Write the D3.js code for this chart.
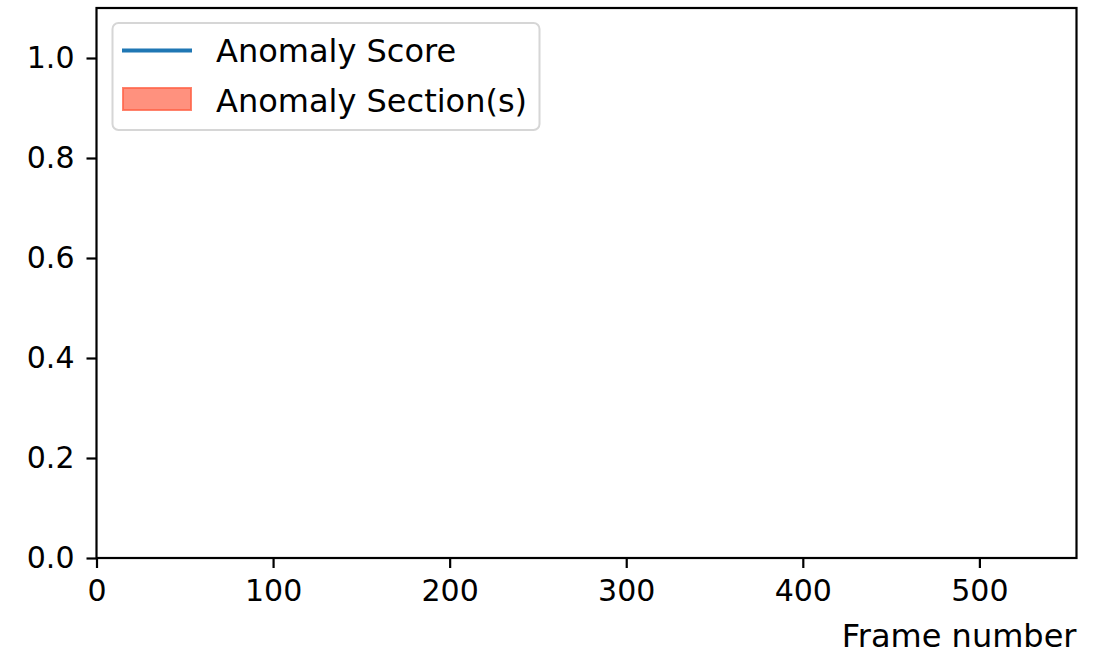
<!DOCTYPE html>
<html>
    <head>
        <meta charset="utf8">
        <title>Anomaly Score</title>
        <style>
            body { margin: 0; background: #fff; }
            svg text { font-family: "DejaVu Sans", sans-serif; fill: #000; }
            .tick line { stroke: #000; stroke-width: 2.2px; }
            .domain { display: none; }
        </style>
    </head>
    <body>
        <svg width="1101" height="654"></svg>

        <script src="https://d3js.org/d3.v7.min.js"></script>
        <script>
            // data (the reference shows an empty plot: no score values, no sections)
            var frames = [];
            var scores = [];
            var anomalySections = [];   // [start, end] pairs

            var xDomain = [0, 555];
            var yDomain = [0, 1.1];
            var xTicks = [0, 100, 200, 300, 400, 500];
            var yTicks = [0.0, 0.2, 0.4, 0.6, 0.8, 1.0];
            var legendLabels = ["Anomaly Score", "Anomaly Section(s)"];
            var xLabel = "Frame number";

            var svg = d3.select("svg");
            var plotLeft = 96.5, plotRight = 1076.5, plotTop = 8, plotBottom = 558;

            var x = d3.scaleLinear().domain(xDomain).range([plotLeft, plotRight]);
            var y = d3.scaleLinear().domain(yDomain).range([plotBottom, plotTop]);

            // anomaly sections
            svg.append("g")
                .selectAll("rect")
                .data(anomalySections)
                .enter().append("rect")
                .attr("x", d => x(d[0]))
                .attr("width", d => x(d[1]) - x(d[0]))
                .attr("y", plotTop)
                .attr("height", plotBottom - plotTop)
                .attr("fill", "tomato")
                .attr("fill-opacity", 0.7);

            // score line
            var line = d3.line()
                .x((d, i) => x(frames[i]))
                .y(d => y(d));
            svg.append("path")
                .datum(scores)
                .attr("fill", "none")
                .attr("stroke", "#1f77b4")
                .attr("stroke-width", 4)
                .attr("d", line);

            // axes
            var xAxis = svg.append("g")
                .attr("transform", "translate(0," + plotBottom + ")")
                .call(d3.axisBottom(x).tickValues(xTicks).tickSize(10).tickPadding(12)
                    .tickFormat(d3.format("d")));
            xAxis.selectAll("text").style("font-size", "30px").attr("dy", "0.71em");

            var yAxis = svg.append("g")
                .attr("transform", "translate(" + plotLeft + ",0)")
                .call(d3.axisLeft(y).tickValues(yTicks).tickSize(10).tickPadding(12)
                    .tickFormat(d3.format(".1f")));
            yAxis.selectAll("text").style("font-size", "30px");

            // frame
            svg.append("rect")
                .attr("x", plotLeft).attr("y", plotTop)
                .attr("width", plotRight - plotLeft).attr("height", plotBottom - plotTop)
                .attr("fill", "none")
                .attr("stroke", "#000")
                .attr("stroke-width", 2.2);

            svg.append("text")
                .attr("x", plotRight)
                .attr("y", 647)
                .attr("text-anchor", "end")
                .style("font-size", "32px")
                .text(xLabel);

            // legend
            var legend = svg.append("g");
            legend.append("rect")
                .attr("x", 112.5).attr("y", 23)
                .attr("width", 427).attr("height", 107)
                .attr("rx", 6)
                .attr("fill", "#fff").attr("fill-opacity", 0.8)
                .attr("stroke", "#d6d6d6").attr("stroke-width", 2);
            legend.append("line")
                .attr("x1", 122).attr("x2", 192)
                .attr("y1", 50.5).attr("y2", 50.5)
                .attr("stroke", "#1f77b4").attr("stroke-width", 4);
            legend.append("rect")
                .attr("x", 123).attr("y", 88)
                .attr("width", 68).attr("height", 22)
                .attr("fill", "tomato").attr("fill-opacity", 0.7)
                .attr("stroke", "tomato").attr("stroke-opacity", 0.8)
                .attr("stroke-width", 2);
            legend.selectAll("text.lab")
                .data(legendLabels)
                .enter().append("text")
                .attr("class", "lab")
                .attr("x", 216)
                .attr("y", (d, i) => 50.5 + i * 49.5)
                .attr("dy", "0.36em")
                .style("font-size", "32px")
                .text(d => d);
        </script>
    </body>
</html>
